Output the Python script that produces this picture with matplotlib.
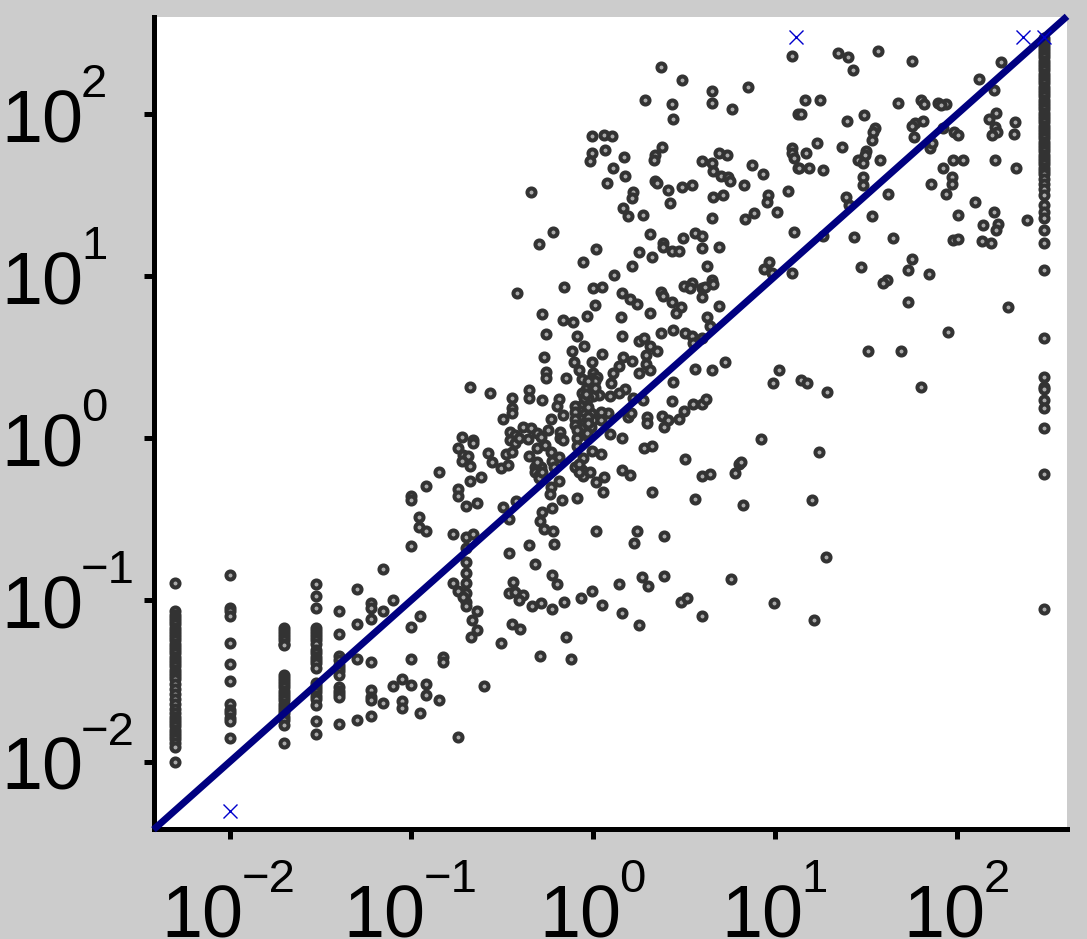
import numpy as np
import matplotlib
matplotlib.use("Agg")
import matplotlib.pyplot as plt

plt.rcParams['font.family'] = ['Liberation Sans', 'DejaVu Sans']

FS = 53
FS_EXP = 34
BG = '#cccccc'

# everything below is log10 of the value

# columns where x is rounded to a fixed value
col_005 = [-0.895, -1.07, -1.09, -1.11, -1.13, -1.15, -1.17, -1.19, -1.21, -1.23, -1.25, -1.27, -1.29, -1.31,
           -1.33, -1.35, -1.37, -1.39, -1.41, -1.43, -1.45, -1.47, -1.49, -1.52, -1.55, -1.58, -1.61, -1.64,
           -1.67, -1.70, -1.72, -1.74, -1.76, -1.78, -1.80, -1.82, -1.84, -1.86, -1.88, -1.91, -2.0]
col_01 = [-0.846, -1.05, -1.07, -1.10, -1.265, -1.395, -1.50, -1.64, -1.68, -1.70, -1.73, -1.75, -1.85]
col_02 = [-1.17, -1.19, -1.21, -1.23, -1.25, -1.27, -1.28, -1.46, -1.48, -1.50, -1.52, -1.54, -1.56, -1.58,
          -1.60, -1.62, -1.64, -1.66, -1.68, -1.70, -1.72, -1.74, -1.77, -1.88]
col_03 = [-0.90, -0.975, -1.05, -1.17, -1.19, -1.21, -1.23, -1.25, -1.27, -1.31, -1.33, -1.35, -1.37, -1.39,
          -1.42, -1.51, -1.53, -1.55, -1.57, -1.59, -1.61, -1.65, -1.75, -1.83]
col_04 = [-1.07, -1.21, -1.345, -1.37, -1.40, -1.42, -1.44, -1.46, -1.54, -1.56, -1.58, -1.60, -1.765]
col_300 = [2.47, 2.45, 2.43, 2.41, 2.39, 2.37, 2.35, 2.33, 2.31, 2.29, 2.27, 2.25, 2.23, 2.21, 2.19, 2.17,
           2.15, 2.13, 2.11, 2.09, 2.07, 2.05, 2.03, 2.01, 1.99, 1.97, 1.95, 1.93, 1.91, 1.89, 1.87, 1.85,
           1.83, 1.81, 1.79, 1.77, 1.75, 1.73, 1.71, 1.69, 1.67, 1.65, 1.63, 1.60, 1.57, 1.54, 1.50, 1.44,
           1.395, 1.36, 1.285, 1.205, 1.04, 0.62, 0.375, 0.315, 0.305, 0.235, 0.185, 0.06, -0.22, -1.055]

# remaining points as (log x, log y)
low_left = [(-1.30, -0.93), (-1.155, -0.81), (-1.0, -0.665), (-1.22, -1.02), (-1.22, -1.05), (-1.10, -1.0),
            (-1.155, -1.07), (-1.22, -1.12), (-1.30, -1.15), (-0.955, -1.10), (-1.0, -1.165), (-1.30, -1.365),
            (-1.22, -1.38), (-1.0, -1.365), (-0.825, -1.35), (-0.825, -1.38), (-1.05, -1.49), (-1.10, -1.53),
            (-1.0, -1.525), (-0.92, -1.52), (-0.92, -1.585), (-0.85, -1.62), (-1.22, -1.555), (-1.22, -1.60),
            (-1.22, -1.62), (-1.155, -1.635), (-1.05, -1.625), (-1.05, -1.665), (-0.955, -1.70), (-1.22, -1.715),
            (-1.30, -1.74), (-0.745, -1.845), (-0.60, -1.53)]

middle = [(-0.26, 0.64), (-0.09, 0.63), (0.16, 0.63), (0.25, 0.60), (0.28, 0.62), (0.37, 0.65), (0.44, 0.67),
          (0.505, 0.65), (0.54, 0.63), (0.55, 0.585), (0.60, 0.62), (-0.05, 0.57), (-0.115, 0.54), (0.05, 0.52),
          (-0.27, 0.50), (-0.105, 0.47), (-0.005, 0.47), (-0.08, 0.42), (0.165, 0.50), (0.215, 0.475),
          (0.14, 0.445), (0.11, 0.40), (0.31, 0.57), (0.35, 0.54), (0.29, 0.51), (0.29, 0.46), (0.25, 0.40),
          (0.31, 0.42), (0.56, 0.425), (0.65, 0.42), (0.44, 0.345), (-0.26, 0.41), (-0.26, 0.37), (-0.15, 0.37),
          (-0.065, 0.365), (0.0, 0.40), (0.0, 0.37), (0.0, 0.34), (0.0, 0.31), (0.0, 0.28), (-0.02, 0.33),
          (-0.04, 0.30), (-0.06, 0.28), (0.02, 0.38), (0.095, 0.34), (0.175, 0.30), (0.14, 0.28), (0.09, 0.26),
          (0.03, 0.265), (0.22, 0.245), (0.275, 0.235), (0.435, 0.23), (-0.355, 0.295), (-0.355, 0.245),
          (-0.28, 0.235), (-0.445, 0.245), (-0.445, 0.185), (-0.445, 0.155), (-0.19, 0.24), (-0.20, 0.20),
          (-0.68, 0.315), (-0.57, 0.28), (-0.165, 0.14), (-0.235, 0.115), (-0.495, 0.115), (-0.07, 0.20),
          (-0.07, 0.17), (-0.05, 0.15), (-0.07, 0.12), (-0.05, 0.09), (-0.07, 0.06), (-0.04, 0.02), (0.08, 0.155),
          (0.04, 0.16), (-0.015, 0.155), (0.0, 0.11), (0.04, 0.11), (-0.015, 0.07), (-0.035, 0.03), (0.19, 0.13),
          (0.205, 0.155), (0.295, 0.13), (0.295, 0.09), (0.38, 0.135), (0.41, 0.11), (0.39, 0.07), (0.47, 0.115),
          (0.50, 0.17), (0.55, 0.21), (0.60, 0.21), (0.62, 0.24), (0.09, 0.025), (0.155, 0.0), (-0.72, 0.005),
          (-0.66, -0.01), (-0.66, -0.03), (-0.745, -0.06), (-0.715, -0.105), (-0.69, -0.11), (-0.72, -0.14),
          (-0.68, -0.17), (-0.58, -0.09), (-0.555, -0.15), (-0.51, -0.185), (-0.47, -0.165), (-0.48, -0.10),
          (-0.445, -0.085), (-0.46, 0.04), (-0.43, 0.02), (-0.46, -0.01), (-0.43, -0.03), (-0.41, 0.0),
          (-0.385, 0.07), (-0.34, 0.06), (-0.36, -0.005), (-0.31, 0.03), (-0.25, 0.05), (-0.29, 0.005),
          (-0.185, 0.04), (-0.185, 0.0), (-0.165, -0.015), (-0.09, 0.0), (-0.09, -0.05), (-0.31, -0.06),
          (-0.265, -0.045), (-0.355, -0.11), (-0.235, -0.085), (-0.225, -0.14), (-0.19, -0.12), (-0.32, -0.18),
          (-0.32, -0.21), (-0.30, -0.23), (-0.29, -0.18), (-0.30, -0.245), (-0.215, -0.18), (-0.055, -0.125),
          (-0.01, -0.08), (0.04, -0.10), (-0.10, -0.18), (-0.06, -0.20), (-0.055, -0.235), (-0.02, -0.21),
          (0.015, -0.27), (0.06, -0.24), (0.155, -0.20), (0.20, -0.23), (0.28, -0.06), (0.325, -0.05),
          (0.505, -0.13), (0.595, -0.235), (0.64, -0.22), (0.325, -0.33), (0.56, -0.375), (0.055, -0.335),
          (-0.09, -0.37), (-0.19, -0.265), (-0.235, -0.30), (-0.24, -0.345), (-0.175, -0.38), (-0.225, -0.43),
          (-0.28, -0.455), (-0.295, -0.51), (-0.27, -0.56), (-0.22, -0.575), (-0.215, -0.655), (0.015, -0.575),
          (0.24, -0.575), (0.225, -0.65), (0.39, -0.605), (-0.355, -0.66), (-0.465, -0.71), (-0.32, -0.78),
          (-1.0, -0.36), (-1.0, -0.385), (-0.92, -0.295), (-0.85, -0.21), (-0.745, -0.315), (-0.745, -0.36),
          (-0.68, -0.265), (-0.62, -0.24), (-0.70, -0.42), (-0.64, -0.40), (-0.495, -0.425), (-0.425, -0.39),
          (-0.465, -0.50), (-0.96, -0.49), (-0.96, -0.55), (-0.92, -0.575), (-0.77, -0.59), (-0.70, -0.61),
          (-0.66, -0.59), (-0.70, -0.68), (-0.70, -0.765), (-0.70, -0.835), (-0.70, -0.895), (-0.70, -0.955),
          (-0.70, -1.01), (-0.77, -0.895), (-0.745, -0.945), (-0.715, -0.98), (-0.70, -1.04), (-0.64, -1.07),
          (-0.64, -1.185), (-0.665, -1.125), (-0.675, -1.23), (-0.44, -0.89), (-0.465, -0.955), (-0.43, -0.95),
          (-0.385, -0.97), (-0.41, -1.0), (-0.225, -0.845), (-0.20, -0.90), (-0.335, -1.04), (-0.29, -1.02),
          (-0.225, -1.055), (-0.16, -1.015), (-0.07, -0.99), (-0.005, -0.945), (0.05, -1.03), (0.14, -0.90),
          (0.265, -0.855), (0.30, -0.915), (0.39, -0.85), (0.48, -1.015), (0.515, -0.99), (0.16, -1.08),
          (0.25, -1.155), (0.60, -1.10), (-0.445, -1.15), (-0.405, -1.18), (-0.505, -1.265), (-0.15, -1.23),
          (-0.295, -1.345), (-0.125, -1.365)]

# the dense clump just under and over (1, 1)
clump = [(-0.02, 0.36), (-0.01, 0.29), (0.0, 0.26), (-0.03, 0.25), (-0.05, 0.25), (0.01, 0.35), (0.01, 0.31),
         (-0.03, 0.35), (-0.04, 0.27), (-0.10, 0.20), (-0.10, 0.16), (-0.10, 0.12), (-0.10, 0.08), (-0.09, 0.05),
         (-0.03, 0.19), (-0.03, 0.13), (-0.03, 0.09), (-0.31, -0.15), (-0.28, -0.21), (-0.08, -0.16), (-0.08, -0.21)]

upper = [(0.37, 2.29), (0.485, 2.21), (0.285, 2.085), (0.435, 2.06), (0.44, 1.97), (0.65, 2.14), (0.655, 2.07),
         (0.76, 2.03), (0.85, 2.17), (1.09, 2.36), (-0.005, 1.865), (0.06, 1.87), (0.105, 1.865), (0.065, 1.78),
         (-0.005, 1.76), (-0.02, 1.71), (0.17, 1.735), (0.11, 1.67), (0.175, 1.62), (0.075, 1.575), (0.38, 1.80),
         (0.34, 1.745), (0.335, 1.72), (0.595, 1.71), (0.655, 1.70), (0.69, 1.76), (0.735, 1.75), (0.66, 1.65),
         (0.70, 1.62), (0.74, 1.61), (0.75, 1.585), (0.875, 1.685), (0.93, 1.63), (0.83, 1.56), (0.34, 1.59),
         (0.35, 1.575), (0.41, 1.53), (0.49, 1.55), (0.54, 1.56), (0.42, 1.45), (0.66, 1.49), (0.715, 1.50),
         (0.96, 1.50), (0.955, 1.455), (1.07, 1.525), (1.01, 1.395), (0.885, 1.39), (0.835, 1.35), (0.65, 1.36),
         (1.105, 1.27), (1.09, 1.79), (1.09, 1.76), (1.105, 1.73), (1.125, 1.67), (1.125, 2.0), (-0.345, 1.52),
         (0.22, 1.52), (0.21, 1.48), (0.165, 1.42), (0.19, 1.37), (0.275, 1.38), (-0.22, 1.27), (-0.30, 1.20),
         (0.015, 1.165), (-0.055, 1.085), (0.31, 1.26), (0.25, 1.15), (0.325, 1.12), (0.215, 1.06), (0.115, 1.005),
         (0.385, 1.205), (0.385, 1.18), (0.435, 1.155), (0.47, 1.155), (0.495, 1.235), (0.56, 1.265), (0.60, 1.245),
         (0.60, 1.175), (0.69, 1.18), (0.625, 1.06), (0.965, 1.09), (0.94, 1.045), (0.98, 1.02), (1.09, 1.02),
         (-0.42, 0.895), (-0.16, 0.93), (0.0, 0.925), (0.05, 0.93), (0.155, 0.895), (0.20, 0.86), (0.24, 0.83),
         (0.37, 0.90), (0.385, 0.88), (0.43, 0.84), (0.48, 0.81), (0.455, 0.77), (0.50, 0.94), (0.54, 0.955),
         (0.53, 0.925), (0.595, 0.925), (0.615, 0.93), (0.65, 0.975), (0.66, 0.95), (0.595, 0.87), (0.69, 0.815),
         (0.01, 0.82), (-0.035, 0.755), (-0.28, 0.765), (-0.165, 0.73), (-0.11, 0.715), (0.15, 0.745), (0.31, 0.77),
         (0.625, 0.745), (0.64, 0.69)]

upper_right = [(1.345, 2.38), (1.40, 2.35), (1.43, 2.27), (1.565, 2.39), (1.75, 2.33), (2.24, 2.32), (2.12, 2.22),
               (2.20, 2.15), (1.165, 2.085), (1.245, 2.085), (1.14, 2.0), (1.395, 1.96), (1.49, 1.995), (1.675, 2.07),
               (1.80, 2.09), (1.82, 2.06), (1.895, 2.07), (1.94, 2.06), (1.91, 2.055), (1.77, 1.945), (1.81, 1.96),
               (1.75, 1.93), (2.215, 2.01), (2.175, 1.97), (2.32, 1.95), (2.315, 1.875), (2.21, 1.92), (2.22, 1.89),
               (2.19, 1.87), (1.55, 1.915), (1.54, 1.89), (1.53, 1.84), (1.765, 1.86), (1.92, 1.915), (1.985, 1.89),
               (2.005, 1.87), (1.85, 1.79), (1.86, 1.82), (1.23, 1.825), (1.17, 1.76), (1.13, 1.67), (1.185, 1.67),
               (1.265, 1.655), (1.365, 1.80), (1.50, 1.77), (1.495, 1.75), (1.455, 1.72), (1.485, 1.70), (1.575, 1.72),
               (1.48, 1.61), (1.48, 1.56), (1.39, 1.49), (1.405, 1.44), (1.62, 1.51), (1.53, 1.37), (1.26, 1.25),
               (1.435, 1.24), (1.65, 1.235), (1.47, 1.055), (1.75, 1.105), (1.73, 1.035), (1.845, 1.01), (1.615, 0.975),
               (1.59, 0.955), (1.73, 0.84), (1.92, 1.67), (1.98, 1.72), (2.03, 1.715), (2.21, 1.72), (2.325, 1.67),
               (1.855, 1.57), (1.97, 1.61), (1.97, 1.57), (1.94, 1.51), (2.10, 1.455), (2.205, 1.395), (2.005, 1.38),
               (2.14, 1.315), (2.225, 1.32), (2.215, 1.285), (2.385, 1.345), (1.98, 1.22), (2.005, 1.23), (2.135, 1.215),
               (2.185, 1.205), (2.28, 0.81), (1.95, 0.655)]

lower_right = [(1.51, 0.54), (1.69, 0.54), (0.725, 0.47), (1.02, 0.42), (0.985, 0.34), (1.14, 0.36), (1.175, 0.34),
               (1.285, 0.285), (1.80, 0.315), (0.92, -0.005), (1.24, -0.085), (0.80, -0.16), (0.81, -0.15),
               (0.78, -0.215), (0.825, -0.415), (1.20, -0.385), (1.28, -0.735), (0.755, -0.87), (0.995, -1.02),
               (1.215, -1.125)]

# points off the plotted circles, blue crosses
cross_x = [-2.0, 1.115, 2.36, 2.477]
cross_y = [-2.30, 2.477, 2.477, 2.477]

tick_exps = [-2, -1, 0, 1, 2]

xlog = [-2.301] * len(col_005) + [-2.0] * len(col_01) + [-1.699] * len(col_02) + [-1.523] * len(col_03) \
    + [-1.398] * len(col_04) + [2.477] * len(col_300)
ylog = col_005 + col_01 + col_02 + col_03 + col_04 + col_300
for group in [low_left, middle, clump, upper, upper_right, lower_right]:
    xlog = xlog + [p[0] for p in group]
    ylog = ylog + [p[1] for p in group]

x = 10 ** np.array(xlog)
y = 10 ** np.array(ylog)

fig = plt.figure(figsize=(10.87, 9.39), dpi=100, facecolor=BG)
LEFT, BOTTOM = 153.5, 829
ax = fig.add_axes([LEFT / 1087, 1 - BOTTOM / 939, (1067 - LEFT) / 1087, (BOTTOM - 17) / 939])

ax.plot(x, y, 'o', ms=5.8, mew=2.9, mfc='#aaaaaa', mec='#333333', zorder=2)
lims = [10 ** -2.418, 10 ** 2.604]
ax.plot(lims, lims, '-', color='#000080', lw=5, solid_capstyle='butt', zorder=3, clip_on=False)
ax.plot(10 ** np.array(cross_x), 10 ** np.array(cross_y), 'x', color='#0000cc', ms=10, mew=1, zorder=4)

ax.set_xscale('log')
ax.set_yscale('log')
ax.set_xlim(lims)
ax.set_ylim(10 ** -2.414, 10 ** 2.60)
ticks = [10.0 ** e for e in tick_exps]
ax.set_xticks(ticks)
ax.set_yticks(ticks)
ax.minorticks_off()
ax.set_xticklabels([])
ax.set_yticklabels([])

ax.spines['top'].set_visible(False)
ax.spines['right'].set_visible(False)
ax.spines['left'].set_linewidth(3.6)
ax.spines['bottom'].set_linewidth(3.6)
ax.tick_params(axis='both', which='major', length=7, width=3.6)


def label(xy, trans, dx, dy, txt, size):
    ax.annotate(txt, xy=xy, xycoords=trans, xytext=(dx, dy), textcoords='offset pixels',
                fontsize=size, ha='left', va='baseline', annotation_clip=False)


# tick labels are drawn by hand, the exponents sit much higher than mathtext puts them
for e in tick_exps:
    exp_txt = str(e).replace('-', '\u2212')
    # x axis: centred on the tick, baselines at fixed distance below the axis
    base_dx = -68 if e < 0 else -54
    label((10.0 ** e, 0), ax.get_xaxis_transform(), base_dx, -(937 - BOTTOM), '10', FS)
    label((10.0 ** e, 0), ax.get_xaxis_transform(), base_dx + 80, -(892 - BOTTOM), exp_txt, FS_EXP)
    # y axis: left aligned at the figure edge
    label((0, 10.0 ** e), ax.get_yaxis_transform(), 1 - LEFT, -28, '10', FS)
    label((0, 10.0 ** e), ax.get_yaxis_transform(), 81 - LEFT, 17, exp_txt, FS_EXP)

fig.savefig('out.png', dpi=100, facecolor=BG)
